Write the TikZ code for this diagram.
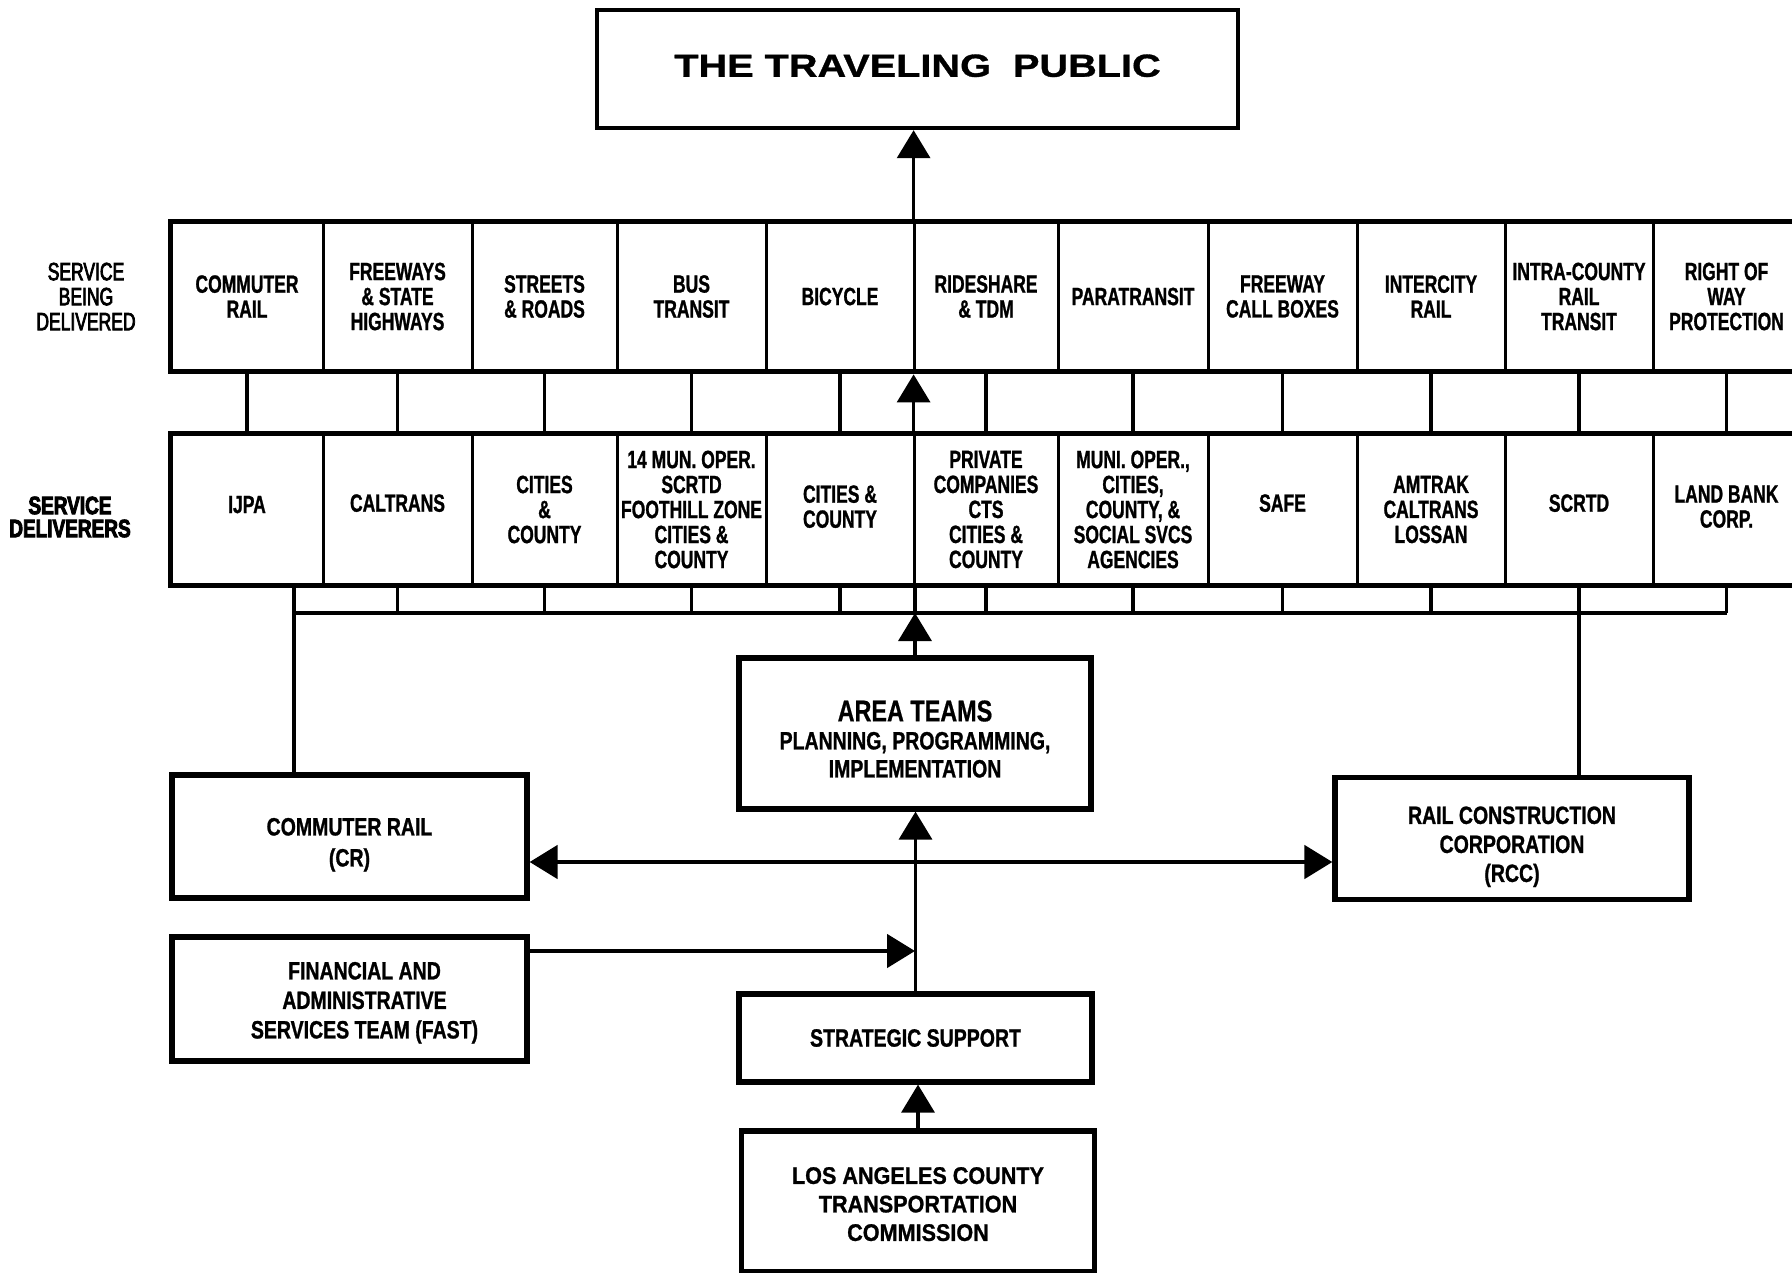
\documentclass[tikz,border=0pt]{standalone}
\usepackage{fontspec}
\setmainfont{Liberation Sans}
\newfontfamily\fcell{Liberation Sans Bold}[FakeStretch=0.70,FakeBold=1]
\newfontfamily\flabr{Liberation Sans}[FakeStretch=0.70,FakeBold=3]
\newfontfamily\flabh{Liberation Sans Bold}[FakeStretch=0.76,FakeBold=3.5]
\newfontfamily\ftitle{Liberation Sans Bold}[FakeStretch=1.24,FakeBold=1]
\newfontfamily\fbx{Liberation Sans Bold}[FakeStretch=0.78,FakeBold=1]
\newfontfamily\fat{Liberation Sans Bold}[FakeStretch=0.78,FakeBold=0.6]
\newfontfamily\flac{Liberation Sans Bold}[FakeStretch=0.90,FakeBold=1]
\newcommand\myup[1]{\rule{0pt}{#1}}
\newcommand\mydown[1]{\rule[-#1]{0pt}{#1}}
\usetikzlibrary{arrows.meta}
\begin{document}
\begin{tikzpicture}[x=0.5pt,y=-0.5pt,
  >={Triangle[length=14pt,width=16.5pt]},
  conn/.style={line width=1.7pt},
  hconn/.style={line width=2.4pt},
  rowframe/.style={line width=2.6pt},
  divider/.style={line width=1.8pt},
  box/.style={draw, line width=2.6pt, inner sep=0pt, align=center},
  cell/.style={inner sep=0pt, align=center, font=\fcell\fontsize{12.5}{12.5}\selectfont},
  srow/.style={cell, minimum height=74.5pt},
  drow/.style={cell, minimum height=75.5pt}]
\useasboundingbox (0,0) rectangle (1792,1273);

% title
\node[draw, line width=2.2pt, minimum width=320.5pt, minimum height=59pt, inner sep=0pt,
      font=\ftitle\fontsize{16}{18}\selectfont] (tp) at (917.5,69) {THE TRAVELING\ \ PUBLIC\mydown{3.4pt}};

% left labels
\node[align=center, inner sep=0pt, font=\flabr\fontsize{12.5}{12.5}\selectfont] (lab1) at (86,296.5) {SERVICE\\BEING\\DELIVERED};
\node[align=center, inner sep=0pt, font=\flabh\fontsize{12.5}{11.5}\selectfont] (lab2) at (70,517) {SERVICE\\DELIVERERS};

% service row
\node[srow, minimum width=76pt]   (s1)  at (247,296.5)    {COMMUTER\\RAIL};
\node[srow, minimum width=74.5pt] (s2)  at (397.5,296.5)  {FREEWAYS\\\& STATE\\HIGHWAYS};
\node[srow, minimum width=72.5pt] (s3)  at (544.5,296.5)  {STREETS\\\& ROADS};
\node[srow, minimum width=74.5pt] (s4)  at (691.5,296.5)  {BUS\\TRANSIT};
\node[srow, minimum width=74pt]   (s5)  at (840,296.5)    {BICYCLE};
\node[srow, minimum width=72pt]   (s6)  at (986,296.5)    {RIDESHARE\\\& TDM};
\node[srow, minimum width=75pt]   (s7)  at (1133,296.5)   {PARATRANSIT};
\node[srow, minimum width=74.5pt] (s8)  at (1282.5,296.5) {FREEWAY\\CALL BOXES};
\node[srow, minimum width=74pt]   (s9)  at (1431,296.5)   {INTERCITY\\RAIL};
\node[srow, minimum width=74pt]   (s10) at (1579,296.5)   {INTRA-COUNTY\\RAIL\\TRANSIT};
\node[srow, minimum width=73.5pt] (s11) at (1726.5,296.5) {RIGHT OF\\WAY\\PROTECTION};

% deliverers row
\node[drow, minimum width=76pt]   (d1)  at (247,509.5)    {IJPA\mydown{5pt}};
\node[drow, minimum width=74.5pt] (d2)  at (397.5,509.5)  {CALTRANS\mydown{6.5pt}};
\node[drow, minimum width=72.5pt] (d3)  at (544.5,509.5)  {CITIES\\\&\\COUNTY};
\node[drow, minimum width=74.5pt] (d4)  at (691.5,509.5)  {14 MUN. OPER.\\SCRTD\\FOOTHILL ZONE\\CITIES \&\\COUNTY};
\node[drow, minimum width=74pt]   (d5)  at (840,509.5)    {CITIES \&\\COUNTY\mydown{3pt}};
\node[drow, minimum width=72pt]   (d6)  at (986,509.5)    {PRIVATE\\COMPANIES\\CTS\\CITIES \&\\COUNTY};
\node[drow, minimum width=75pt]   (d7)  at (1133,509.5)   {MUNI. OPER.,\\CITIES,\\COUNTY, \&\\SOCIAL SVCS\\AGENCIES};
\node[drow, minimum width=74.5pt] (d8)  at (1282.5,509.5) {SAFE\mydown{6.5pt}};
\node[drow, minimum width=74pt]   (d9)  at (1431,509.5)   {AMTRAK\\CALTRANS\\LOSSAN};
\node[drow, minimum width=74pt]   (d10) at (1579,509.5)   {SCRTD\mydown{6.5pt}};
\node[drow, minimum width=73.5pt] (d11) at (1726.5,509.5) {LAND BANK\\CORP.\mydown{3pt}};

% row frames and dividers
\draw[rowframe] (s1.north west) rectangle (s11.south east);
\draw[rowframe] (d1.north west) rectangle (d11.south east);
\foreach \i in {1,...,10}{
  \draw[divider] (s\i.north east) -- (s\i.south east);
  \draw[divider] (d\i.north east) -- (d\i.south east);
}

% lower boxes
\node[box, minimum width=176pt, minimum height=75.5pt, font=\fbx\fontsize{12.5}{14}\selectfont] (at) at (915,733.5)
  {\myup{16pt}{\fat\fontsize{15}{15}\selectfont AREA TEAMS}\\PLANNING, PROGRAMMING,\\IMPLEMENTATION};
\node[box, minimum width=177.5pt, minimum height=61.5pt, font=\fbx\fontsize{12.5}{15.5}\selectfont] (cr) at (349.5,836.5)
  {\myup{17pt}COMMUTER RAIL\\(CR)};
\node[box, minimum width=177pt, minimum height=61pt, font=\fbx\fontsize{12.5}{14.5}\selectfont] (rcc) at (1512,838.5)
  {\myup{17pt}RAIL CONSTRUCTION\\CORPORATION\\(RCC)};
\node[box, minimum width=177.5pt, minimum height=62pt, font=\fbx\fontsize{12.5}{14.75}\selectfont] (fast) at (349.5,999)
  {\hspace*{15pt}\myup{12.5pt}FINANCIAL AND\\\hspace*{15pt}ADMINISTRATIVE\\\hspace*{15pt}SERVICES TEAM (FAST)};
\node[box, minimum width=176.5pt, minimum height=44pt, font=\fbx\fontsize{12.5}{14}\selectfont] (ss) at (915.5,1038)
  {STRATEGIC SUPPORT};
\node[box, minimum width=176.5pt, minimum height=70.5pt, font=\flac\fontsize{12}{14.25}\selectfont] (lac) at (918,1201.5)
  {\myup{11pt}LOS ANGELES COUNTY\\TRANSPORTATION\\COMMISSION};

% connectors between the rows
\foreach \i in {1,...,11}{
  \draw[conn] (s\i.south) -- (d\i.north);
}
% bus below the deliverers
\coordinate (busL) at (294,613);
\foreach \i in {2,...,11}{
  \draw[conn] (d\i.south) -- (d\i.south |- busL);
}
\draw[conn] (busL) -- (busL -| d11.south);
\draw[conn] (busL |- d1.south) -- (busL) -- (busL |- cr.north);
\draw[conn] (d10.south |- busL) -- (d10.south |- rcc.north);

% main spine
\draw[conn,->] (s6.north west) -- (s6.north west |- tp.south);
\draw[conn,->,shorten >=1.5pt] (d6.north west) -- (s6.south west);
\draw[conn] (at.north |- busL) -- (at.north |- d6.south);
\draw[conn,->] (at.north) -- (at.north |- busL);
\draw[conn,->] (ss.north) -- (ss.north |- at.south);
\draw[conn,->] (lac.north) -- (lac.north |- ss.south);

% horizontal arrows
\coordinate (hj) at (915,862);
\draw[hconn,->] (hj) -- (hj -| cr.east);
\draw[hconn,->] (hj) -- (hj -| rcc.west);
\coordinate (fj) at (915,951);
\draw[hconn,->] (fj -| fast.east) -- (fj);
\end{tikzpicture}
\end{document}
